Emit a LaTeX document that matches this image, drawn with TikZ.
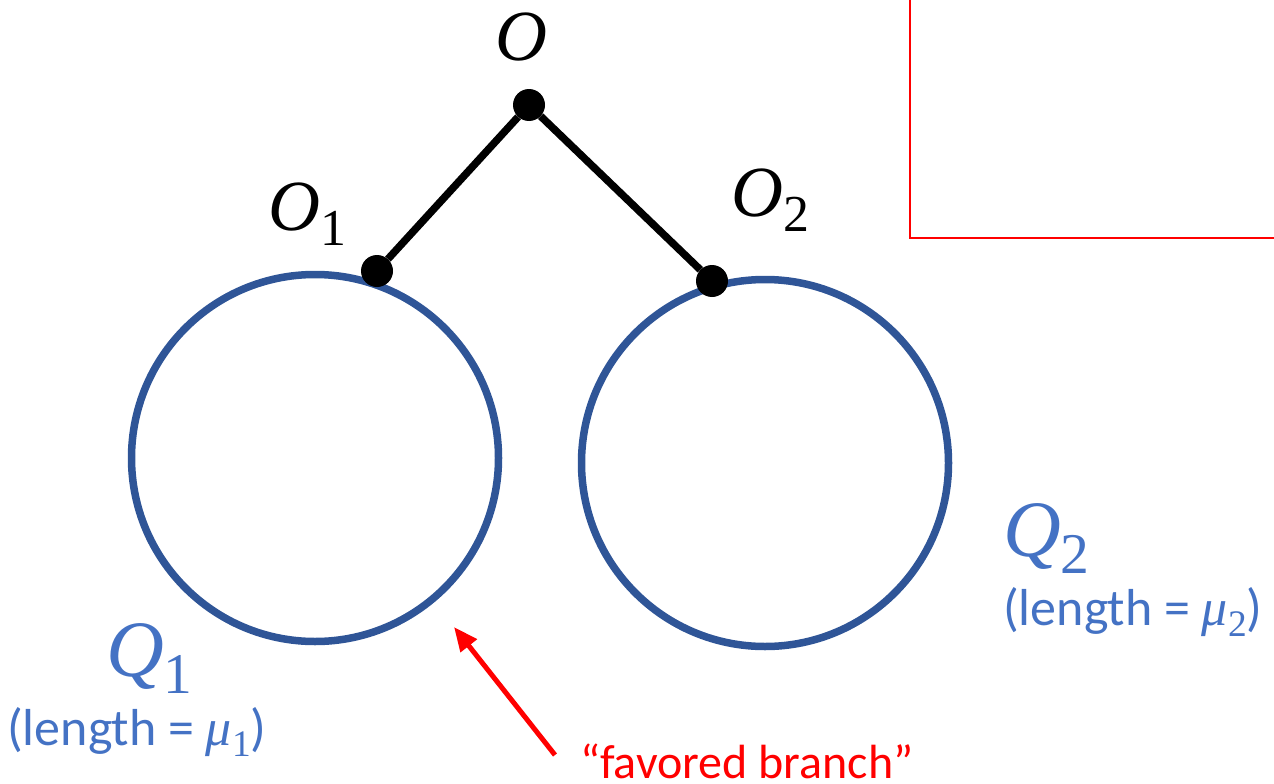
\documentclass[tikz,border=0pt]{standalone}
\usepackage{fontspec}
\setmainfont{Carlito}
\newfontfamily\mvarfont{Liberation Serif}
\newcommand\mysub[1]{\raisebox{-0.22em}{\scalebox{0.72}{\mvarfont\upshape #1}}}
\newcommand\myvar[1]{{\mvarfont\itshape #1}}
\usetikzlibrary{arrows.meta}
\definecolor{ringblue}{HTML}{2F5597}
\definecolor{labblue}{HTML}{4472C4}
\definecolor{hired}{HTML}{FF0000}
\tikzset{
  ring/.style={circle, draw=ringblue, line width=7.5pt, minimum size=367pt, inner sep=0pt},
  vdot/.style={circle, fill=black, minimum size=32pt, inner sep=0pt},
  branch/.style={line width=7.5pt, black},
  mlabel/.style={inner sep=0pt, font=\fontsize{72}{80}\selectfont},
  qlabel/.style={inner sep=0pt, text=labblue, font=\fontsize{80}{90}\selectfont},
  lenlabel/.style={inner sep=0pt, text=labblue, font=\fontsize{52}{60}\selectfont, anchor=base west},
  redtext/.style={inner sep=0pt, text=hired, font=\fontsize{48}{56}\selectfont, anchor=base west},
  redarrow/.style={hired, line width=5pt, -{Triangle[length=24pt,width=20pt]}},
  redbox/.style={hired, line width=2pt}
}
\begin{document}
\begin{tikzpicture}[x=1pt,y=-1pt]
\useasboundingbox (0,0) rectangle (1274,784);
% rings
\node[ring] (q1) at (315,458) {};
\node[ring] (q2) at (765,463) {};
% vertices
\node[vdot] (o) at (529,105) {};
\node[vdot] (o1) at (377,271) {};
\node[vdot] (o2) at (712,281) {};
\draw[branch] (o) -- (o1);
\draw[branch] (o) -- (o2);
% vertex labels
\node[mlabel, anchor=base] (lo) at (521,60) {\myvar{O}};
\node[mlabel, anchor=base west] (lo1) at (268,230) {\myvar{O}\mysub{1}};
\node[mlabel, anchor=base west] (lo2) at (731,216) {\myvar{O}\mysub{2}};
% ring labels
\node[qlabel, anchor=base west] (lq1) at (106,676) {\myvar{Q}\mysub{1}};
\node[lenlabel] (len1) at (7,745) {(length = \myvar{μ}\mysub{1})};
\node[qlabel, anchor=base west] (lq2) at (1003,556) {\myvar{Q}\mysub{2}};
\node[lenlabel] (len2) at (1003,625) {(length = \myvar{μ}\mysub{2})};
% favored branch
\node[redtext] (fav) at (580,778) {“favored branch”};
\coordinate (a1) at (555,755);
\coordinate (a2) at (454,627);
\draw[redarrow] (a1) -- (a2);
% red box corner
\coordinate (b1) at (910,0);
\coordinate (b2) at (910,238);
\coordinate (b3) at (1274,238);
\draw[redbox] (b1) -- (b2) -- (b3);
\end{tikzpicture}
\end{document}
